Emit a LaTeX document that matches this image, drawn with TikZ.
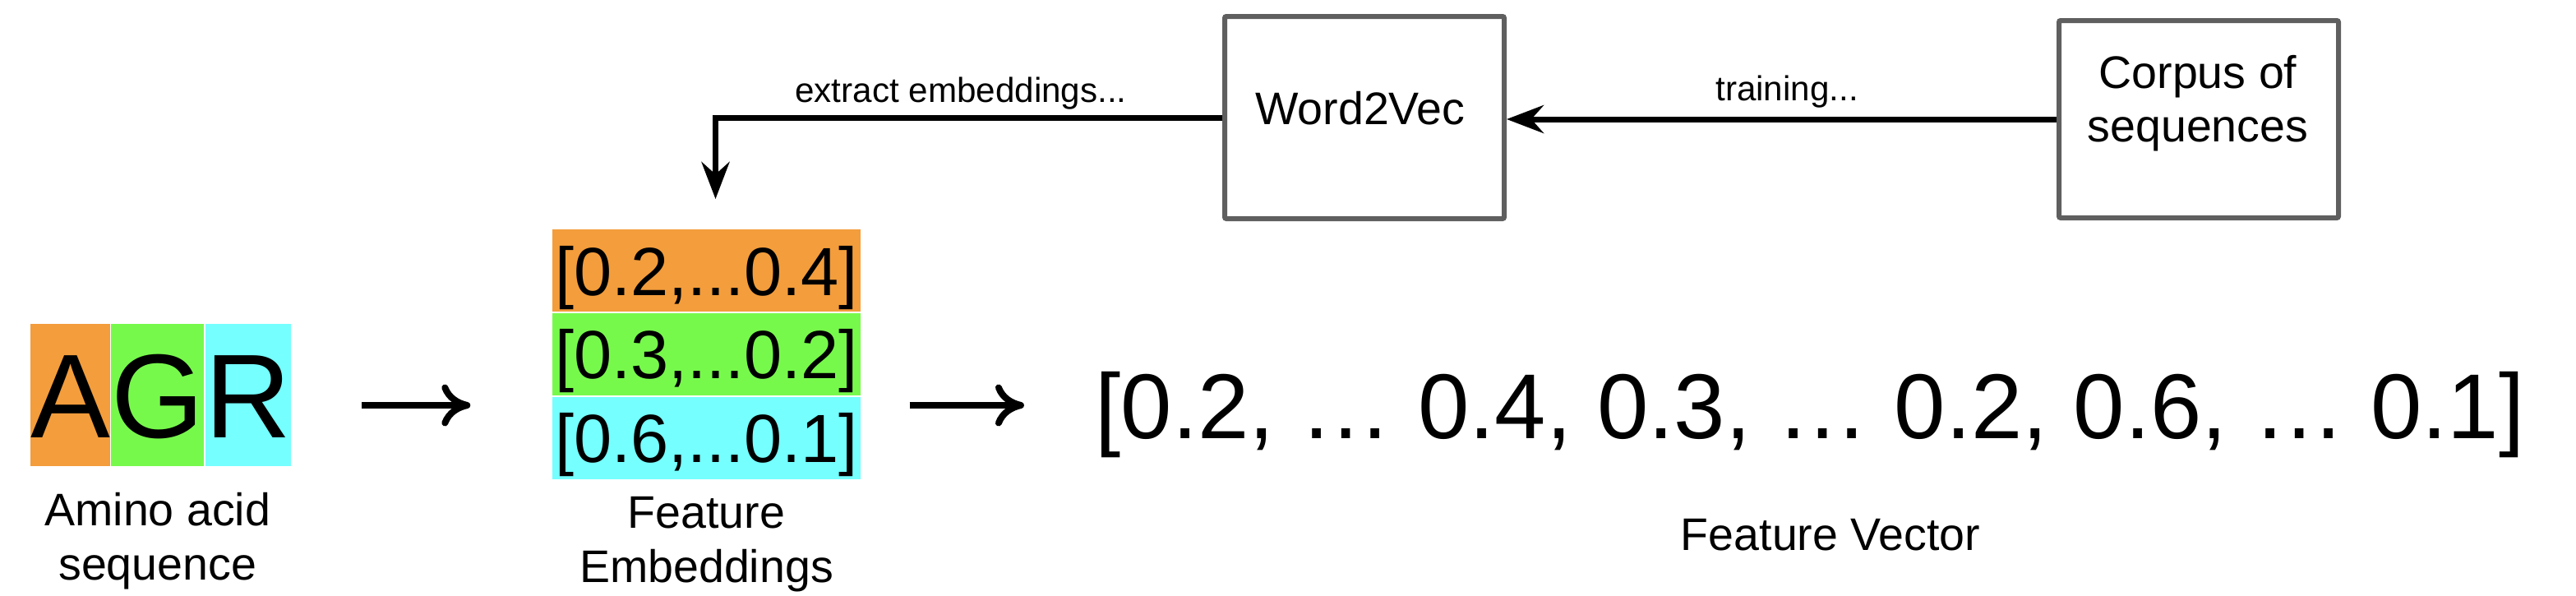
\documentclass[tikz,border=0pt]{standalone}
\usepackage{fontspec}
\setmainfont{Liberation Sans}
\usetikzlibrary{positioning,arrows.meta}

\definecolor{aaorange}{HTML}{F39D3C}
\definecolor{aagreen}{HTML}{77F94C}
\definecolor{aacyan}{HTML}{75FFFF}
\definecolor{boxgray}{HTML}{5F5F5F}

\tikzstyle{letter} = [inner sep=0, text height=1.04cm, text depth=0cm, minimum height=1.73cm, font=\fontsize{41.3pt}{41.3pt}\selectfont]
\tikzstyle{embrow} = [inner sep=0, text height=0.6cm, text depth=0cm, minimum width=3.75cm, minimum height=1.005cm, font=\fontsize{23.6pt}{23.6pt}\selectfont]
\tikzstyle{caption} = [inner sep=0, align=center, font=\fontsize{15.8pt}{18.8pt}\selectfont]
\tikzstyle{stagebox} = [draw=boxgray, line width=0.06cm, rounded corners=0.02cm, minimum width=3.4cm]
\tikzstyle{boxtext} = [inner sep=0, align=center, font=\fontsize{15.8pt}{18.5pt}\selectfont]
\tikzstyle{edgetext} = [inner sep=0, anchor=base, font=\fontsize{12pt}{12pt}\selectfont]
\tikzstyle{flowarrow} = [line width=0.07cm, -{Stealth[length=0.45cm,width=0.34cm,inset=0.15cm]}]
\tikzstyle{maparrow} = [line width=0.08cm, -{To[length=0.35cm,width=0.51cm]}]

\begin{document}
\begin{tikzpicture}
\useasboundingbox (0,0) rectangle (31.34,-7.24);

% amino acid sequence
\node (a) [letter, fill=aaorange] at (0.855,-4.805) {A};
\node (g) [letter, fill=aagreen, right=0pt of a] {G};
\node (r) [letter, fill=aacyan, right=0pt of g] {R};
\node (seqlabel) [caption, below=0.31cm of g] {Amino acid\\sequence};

% feature embeddings
\node (e1) [embrow, fill=aaorange] at (8.595,-3.29) {[0.2,...0.4]};
\node (e2) [embrow, fill=aagreen, below=0pt of e1] {[0.3,...0.2]};
\node (e3) [embrow, fill=aacyan, below=0pt of e2] {[0.6,...0.1]};
\node (emblabel) [caption, below=0.2cm of e3] {Feature\\Embeddings};

% feature vector
\node (vec) [inner sep=0, text height=0.8cm, text depth=0cm, font=\fontsize{31.9pt}{31.9pt}\selectfont] at (22.02,-4.93) {[0.2, … 0.4, 0.3, … 0.2, 0.6, … 0.1]};
\node (veclabel) [caption, below=0.97cm of vec, xshift=0.25cm] {Feature Vector};

% word2vec and corpus
\node (w2v) [stagebox, minimum height=2.46cm] at (16.6,-1.43) {};
\node (w2vtext) [boxtext] at (16.55,-1.32) {Word2Vec};
\node (corpus) [stagebox, minimum height=2.40cm] at (26.75,-1.45) {};
\node (corpustext) [boxtext] at (26.74,-1.26) {Corpus of\\sequences};

\draw [maparrow, shorten <=0.85cm, shorten >=0.99cm] (r.east |- vec.west) -- (e2.west |- vec.west);
\draw [maparrow, shorten <=0.59cm, shorten >=0.86cm] (e2.east |- vec.west) -- (vec.west);
\draw [flowarrow] (corpus.west) -- (corpus.west -| w2v.east);
\draw [flowarrow, shorten >=0.36cm] (w2v.west) -| ([xshift=0.11cm]e1.north);

\node (trainlabel) [edgetext] at (21.74,-1.22) {training...};
\node (extractlabel) [edgetext] at (11.69,-1.24) {extract embeddings...};

\end{tikzpicture}
\end{document}
